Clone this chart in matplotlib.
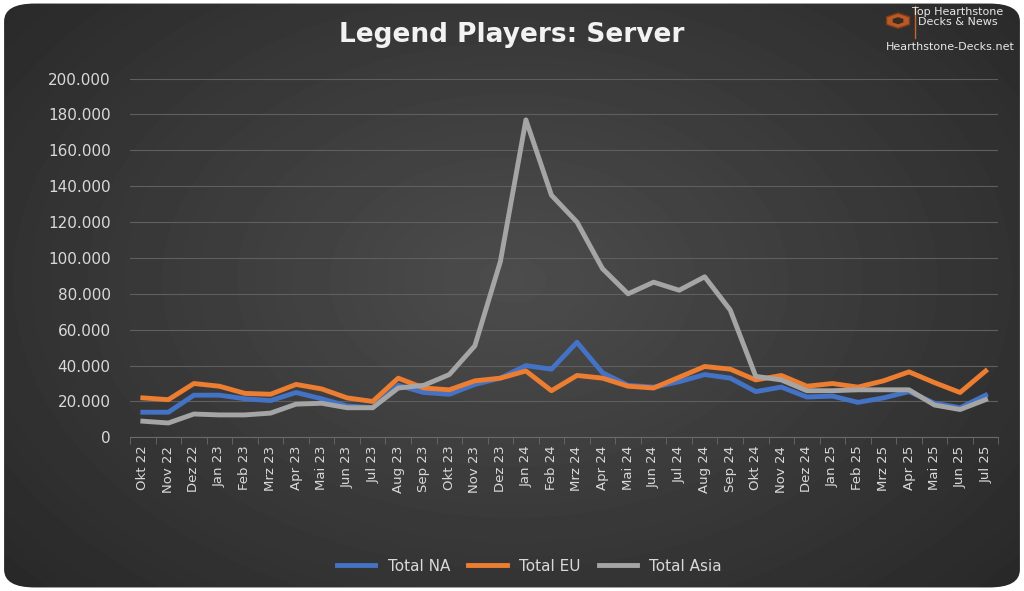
import numpy as np
import matplotlib.pyplot as plt
from matplotlib.patches import FancyBboxPatch, RegularPolygon

months = ["Okt 22", "Nov 22", "Dez 22", "Jan 23", "Feb 23", "Mrz 23", "Apr 23", "Mai 23", "Jun 23", "Jul 23",
          "Aug 23", "Sep 23", "Okt 23", "Nov 23", "Dez 23", "Jan 24", "Feb 24", "Mrz 24", "Apr 24", "Mai 24",
          "Jun 24", "Jul 24", "Aug 24", "Sep 24", "Okt 24", "Nov 24", "Dez 24", "Jan 25", "Feb 25", "Mrz 25",
          "Apr 25", "Mai 25", "Jun 25", "Jul 25"]
total_na = [14000, 14000, 23500, 23500, 21500, 20500, 25000, 21500, 17500, 16500, 29000, 25000, 24000, 29500,
            33000, 40000, 38000, 53000, 36000, 29000, 28000, 31000, 35000, 33000, 25500, 28000, 22500, 23000,
            19500, 22000, 25500, 19000, 16500, 23500]
total_eu = [22000, 21000, 30000, 28500, 24500, 24000, 29500, 27000, 22000, 20000, 33000, 27500, 26500, 31500,
            33000, 37000, 26000, 34500, 33000, 28500, 27500, 33500, 39500, 38000, 32000, 34500, 28500, 30000,
            28000, 31500, 36500, 30500, 25000, 37000]
total_asia = [9000, 8000, 13000, 12500, 12500, 13500, 18500, 19000, 16500, 16500, 27500, 29000, 35000, 51000,
              98000, 177000, 135000, 120000, 94000, 80000, 86500, 82000, 89500, 71000, 34000, 32000, 26000,
              26000, 26500, 26500, 26500, 18000, 15500, 21000]

fig = plt.figure(figsize=(10.24, 5.91), dpi=100)
fig.patch.set_facecolor("white")

# background with radial gradient and rounded corners
bg = fig.add_axes([0, 0, 1, 1])
bg.set_axis_off()
yy, xx = np.mgrid[0:591, 0:1024]
r = np.sqrt(((xx - 512) / 620) ** 2 + ((yy - 280) / 420) ** 2)
grad = np.clip(0.30 - 0.13 * r, 0.12, 0.30)
img = bg.imshow(grad, cmap="gray", vmin=0, vmax=1, extent=[0, 1, 0, 1], aspect="auto")
box = FancyBboxPatch((0.004, 0.006), 0.992, 0.988, boxstyle="round,pad=0,rounding_size=0.03",
                     transform=bg.transAxes, facecolor="none", edgecolor="none")
bg.add_patch(box)
img.set_clip_path(box)
bg.set_xlim(0, 1)
bg.set_ylim(0, 1)

# logo
bg.add_patch(RegularPolygon((0.877, 0.965), 6, radius=0.013, orientation=0, transform=bg.transAxes,
                            facecolor="#b85a28", edgecolor="#7a3a18", lw=1))
bg.add_patch(RegularPolygon((0.877, 0.965), 6, radius=0.006, orientation=0, transform=bg.transAxes,
                            facecolor="#3a2a22", edgecolor="none"))
bg.plot([0.894, 0.894], [0.935, 0.99], color="#c8632a", lw=1, transform=bg.transAxes)

ax = fig.add_axes([0.127, 0.26, 0.848, 0.607])
ax.set_facecolor("none")
x = np.arange(len(months))
ax.plot(x, total_na, color="#4472c4", lw=3.5, label="Total NA", solid_joinstyle="round")
ax.plot(x, total_eu, color="#ed7d31", lw=3.5, label="Total EU", solid_joinstyle="round")
ax.plot(x, total_asia, color="#a5a5a5", lw=3.5, label="Total Asia", solid_joinstyle="round")

ax.set_ylim(0, 200000)
ax.set_xlim(-0.5, len(months) - 0.5)
yt = np.arange(0, 200001, 20000)
ax.set_yticks(yt)
ax.set_yticklabels(["0"] + [f"{v:,}".replace(",", ".") for v in yt[1:]], color="#d9d9d9", fontsize=11)
ax.set_xticks(x)
ax.set_xticklabels(months, rotation=90, color="#d9d9d9", fontsize=9.5)
ax.set_xticks(np.arange(-0.5, len(months)), minor=True)
ax.tick_params(axis="x", which="major", length=0, pad=6)
ax.tick_params(axis="x", which="minor", length=5, color="#6a6a6a")
ax.tick_params(axis="y", length=0, pad=14)
ax.grid(axis="y", color="#5f5f5f", lw=0.8)
ax.set_axisbelow(True)
for s in ["top", "right", "left"]:
    ax.spines[s].set_visible(False)
ax.spines["bottom"].set_color("#6a6a6a")

fig.text(0.5, 0.94, "Legend Players: Server", ha="center", va="center", fontsize=19,
         fontweight="bold", color="#f2f2f2")
leg = ax.legend(loc="upper center", bbox_to_anchor=(0.46, -0.30), ncol=3, frameon=False,
                fontsize=11, handlelength=2.5, columnspacing=1.2)
for t in leg.get_texts():
    t.set_color("#d9d9d9")

fig.text(0.935, 0.988, "Top Hearthstone\nDecks & News", ha="center", va="top", fontsize=8,
         color="#e8e8e8", linespacing=1.0)
fig.text(0.928, 0.92, "Hearthstone-Decks.net", ha="center", va="center", fontsize=8, color="#e8e8e8")

fig.savefig("out.png", dpi=100)
